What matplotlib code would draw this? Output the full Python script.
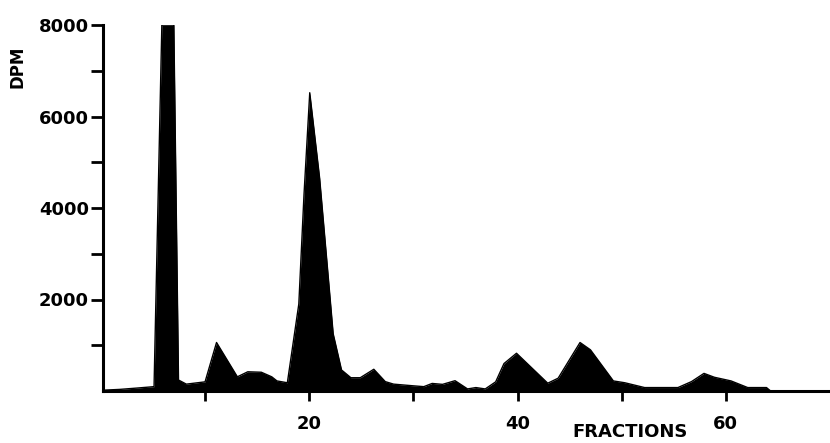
import numpy as np
import matplotlib.pyplot as plt

# fraction number vs. radioactivity (DPM)
fractions = [0.4, 1.8, 3.5, 5.1, 5.85, 7.0, 7.45, 8.2, 10.0, 11.1,
             13.1, 14.1, 15.4, 16.4, 16.9, 17.9, 19.0, 19.5, 20.05, 21.0,
             21.9, 22.3, 23.1, 24.0, 24.9, 26.2, 27.3, 28.1, 29.9, 31.0,
             31.8, 32.8, 34.0, 35.2, 36.0, 36.9, 37.9, 38.7, 39.9, 42.9,
             43.9, 46.0, 47.0, 49.2, 50.3, 52.2, 55.4, 56.7, 57.9, 58.9,
             60.5, 62.1, 63.9, 64.3]
dpm = [20, 35, 65, 95, 8000, 8000, 240, 150, 200, 1060,
       310, 420, 410, 310, 220, 180, 1900, 4300, 6520, 4650,
       2300, 1250, 460, 290, 290, 475, 205, 150, 115, 95,
       165, 145, 225, 45, 75, 45, 200, 600, 825, 170,
       280, 1060, 900, 220, 180, 75, 75, 205, 385, 300,
       220, 75, 75, 0]

y_ticks = [2000, 4000, 6000, 8000]
x_ticks = [20, 40, 60]

fig = plt.figure(figsize=(8.3, 4.43), dpi=100)
ax = fig.add_axes([103 / 830, 52 / 443, 727 / 830, 366 / 443])

ax.fill_between(fractions, dpm, 0, color='black', linewidth=0)
ax.plot(fractions, dpm, color='black', linewidth=1)

ax.set_xlim(0.2, 70)
ax.set_ylim(0, 8000)

for s in ['top', 'right']:
    ax.spines[s].set_visible(False)
for s in ['left', 'bottom']:
    ax.spines[s].set_linewidth(2.2)
    ax.spines[s].set_zorder(5)

ax.set_xticks(np.arange(10, 70, 10), minor=True)
ax.set_xticks(x_ticks)
ax.set_yticks(np.arange(1000, 8000, 2000), minor=True)
ax.set_yticks(y_ticks)

font = dict(family='DejaVu Sans', weight='bold', size=13)
ax.set_xticklabels([str(v) for v in x_ticks], fontdict=font)
ax.set_yticklabels([str(v) for v in y_ticks], fontdict=font)

ax.tick_params(axis='both', which='both', direction='out', width=2, color='black')
ax.tick_params(axis='x', which='both', length=7, pad=10)
ax.tick_params(axis='y', which='both', length=9, pad=1)

ax.set_ylabel('DPM', fontdict=dict(family='DejaVu Sans', weight='bold', size=12))
ax.yaxis.set_label_coords(-0.105, 0.885)
ax.set_xlabel('FRACTIONS', fontdict=font, va='baseline')
ax.xaxis.set_label_coords(0.725, -0.126)

fig.savefig('out.png', dpi=100)
